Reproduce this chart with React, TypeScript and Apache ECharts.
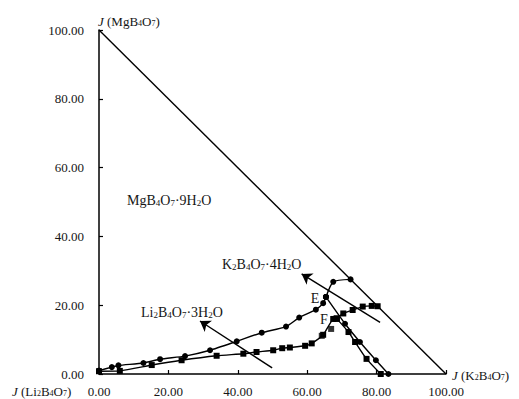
import React, { useEffect, useRef } from 'react';
import * as echarts from 'echarts';

// ---- data (J values, %) ----
const axisTicks = [0, 20, 40, 60, 80, 100];
const boundaryLine = [[0, 100], [100, 0]];

// circles: univariant curve ending at invariant point E
const curveToE = [
  [0, 1.0], [3.7, 2.0], [5.6, 2.5], [12.8, 3.2], [17.6, 4.3], [24.8, 5.2],
  [32.0, 6.9], [39.7, 9.5], [46.9, 12.0], [53.9, 13.8], [57.7, 16.4],
  [62.5, 18.7], [64.6, 20.6], [65.4, 22.4],
];
const curveEUp = [[65.4, 22.4], [67.5, 26.8], [72.5, 27.5]];
const curveEDown = [[65.4, 22.4], [70.9, 14.6], [75.2, 9.3], [79.8, 4.0], [83.4, 0]];

// squares: univariant curve ending at invariant point F
const curveToF = [
  [0, 0.8], [6.0, 0.9], [15.2, 2.6], [23.8, 4.0], [33.9, 5.3], [41.6, 5.9],
  [45.4, 6.4], [50.2, 6.9], [52.8, 7.5], [55.0, 7.7], [59.4, 8.2],
  [61.3, 8.9], [64.6, 11.4], [67.5, 16.0], [68.5, 16.1],
];
const extraSquares = [[64.2, 11.1], [66.9, 13.1]];
const curveFRight = [[68.5, 16.1], [70.4, 17.6], [73.1, 18.6], [76.0, 19.6], [78.6, 19.8], [80.3, 19.7]];
const curveFDown = [[68.5, 16.1], [71.9, 12.2], [73.8, 9.3], [77.1, 4.4], [81.2, 0]];

const arrowLi = [[49.9, 1.8], [29.1, 15.4]];
const arrowK = [[81.0, 15.0], [58.4, 29.1]];

const labelMg = 'MgB_4O_7·9H_2O';
const labelK = 'K_2B_4O_7·4H_2O';
const labelLi = 'Li_2B_4O_7·3H_2O';
const titleTop = 'MgB_4O_7';
const titleRight = 'K_2B_4O_7';
const titleLeft = 'Li_2B_4O_7';

const FONT = '"Liberation Serif", "Times New Roman", serif';
const INK = '#161616';

function toRich(formula: string, withJ: boolean): string {
  let out = withJ ? '{j|J}{n| (}' : '';
  let buf = '';
  for (let i = 0; i < formula.length; i++) {
    const c = formula[i];
    if (c === '_') {
      if (buf) { out += `{n|${buf}}`; buf = ''; }
      out += `{s|${formula[i + 1]}}`;
      i++;
    } else {
      buf += c;
    }
  }
  if (buf) out += `{n|${buf}}`;
  if (withJ) out += '{n|)}';
  return out;
}

function textEl(formula: string, withJ: boolean, x: number, y: number, size = 13) {
  const r: any = {
    n: { fontSize: size, fontFamily: FONT, fill: INK, color: INK },
    j: { fontSize: size, fontFamily: FONT, fontStyle: 'italic', fill: INK, color: INK },
    s: { fontSize: Math.round(size * 0.64), fontFamily: FONT, fill: INK, color: INK, verticalAlign: 'bottom' },
  };
  return {
    type: 'text',
    x,
    y,
    silent: true,
    style: {
      text: toRich(formula, withJ),
      rich: r,
      font: `${size}px ${FONT}`,
      fill: INK,
      align: 'left',
      verticalAlign: 'middle',
    },
  };
}

function plainText(t: string, x: number, y: number) {
  return {
    type: 'text',
    x,
    y,
    silent: true,
    style: { text: t, font: `14px ${FONT}`, fill: INK, align: 'center', verticalAlign: 'middle' },
  };
}

function lineSeries(data: number[][], symbol: string) {
  return {
    type: 'line',
    data,
    smooth: 0.2,
    symbol,
    symbolSize: 6,
    showSymbol: true,
    lineStyle: { color: '#000', width: 1.4 },
    itemStyle: { color: '#000' },
    z: 3,
  };
}

export default function App() {
  const ref = useRef<HTMLDivElement>(null);
  useEffect(() => {
    if (!ref.current) return;
    const chart = echarts.init(ref.current, null, { renderer: 'svg' });
    const axisCommon = {
      type: 'value',
      min: axisTicks[0],
      max: axisTicks[axisTicks.length - 1],
      interval: axisTicks[1] - axisTicks[0],
      axisLine: { show: true, lineStyle: { color: '#000', width: 1.5 } },
      axisTick: { show: true, inside: true, length: 4, lineStyle: { color: '#000', width: 1.2 } },
      splitLine: { show: false },
      axisLabel: {
        formatter: (v: number) => v.toFixed(2),
        fontFamily: FONT,
        fontSize: 13,
        color: INK,
      },
    };
    chart.setOption({
      animation: false,
      backgroundColor: '#fff',
      grid: { left: 99, right: 73, top: 30, bottom: 25 },
      xAxis: { ...axisCommon, axisLabel: { ...axisCommon.axisLabel, margin: 11 } },
      yAxis: { ...axisCommon, axisLabel: { ...axisCommon.axisLabel, margin: 15 } },
      series: [
        {
          type: 'line',
          data: boundaryLine,
          symbol: 'none',
          lineStyle: { color: '#000', width: 1.4 },
          z: 2,
        },
        lineSeries(curveToE, 'circle'),
        lineSeries(curveEUp, 'circle'),
        lineSeries(curveEDown, 'circle'),
        lineSeries(curveToF, 'rect'),
        lineSeries(curveFRight, 'rect'),
        lineSeries(curveFDown, 'rect'),
        {
          type: 'scatter',
          data: extraSquares,
          symbol: 'rect',
          symbolSize: 6,
          itemStyle: { color: '#000' },
        },
        {
          type: 'lines',
          coordinateSystem: 'cartesian2d',
          data: [{ coords: arrowLi }, { coords: arrowK }],
          symbol: ['none', 'arrow'],
          symbolSize: 10,
          lineStyle: { color: '#000', width: 1.4, opacity: 1 },
        },
      ],
      graphic: [
        textEl(titleTop, true, 98, 21),
        textEl(titleRight, true, 452, 375),
        textEl(titleLeft, true, 12, 391),
        textEl(labelMg, false, 127, 200, 14),
        textEl(labelK, false, 222, 264, 14),
        textEl(labelLi, false, 141, 312, 14),
        plainText('E', 315, 298),
        plainText('F', 324, 319),
      ],
    });
    return () => chart.dispose();
  }, []);
  return (
    <div
      ref={ref}
      style={{ position: 'absolute', left: 0, top: 0, width: 519, height: 399, background: '#fff' }}
    />
  );
}
